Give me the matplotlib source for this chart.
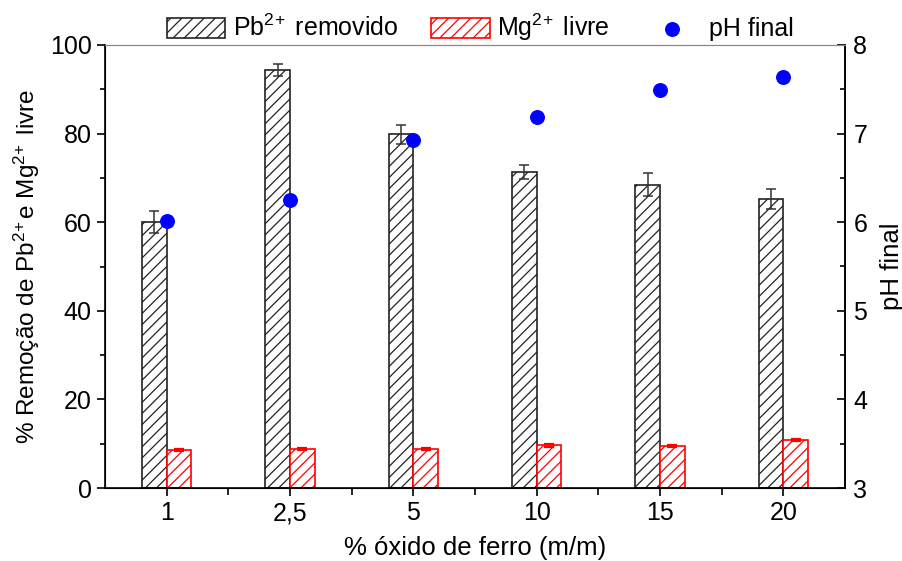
import numpy as np
import matplotlib.pyplot as plt
from matplotlib.ticker import MultipleLocator, FixedLocator

plt.rcParams['font.family'] = ['Liberation Sans', 'DejaVu Sans']
plt.rcParams['mathtext.fontset'] = 'custom'
plt.rcParams['mathtext.rm'] = 'Liberation Sans'
plt.rcParams['mathtext.it'] = 'Liberation Sans'
plt.rcParams['mathtext.default'] = 'regular'
plt.rcParams['hatch.linewidth'] = 0.9

categorias = ['1', '2,5', '5', '10', '15', '20']
pb_removido = [60.0, 94.3, 79.8, 71.3, 68.5, 65.2]
pb_erro = [2.5, 1.3, 2.2, 1.5, 2.5, 2.3]
mg_livre = [8.6, 8.8, 8.8, 9.6, 9.5, 10.8]
mg_erro = [0.3, 0.3, 0.3, 0.3, 0.3, 0.3]
ph_final = [6.01, 6.25, 6.93, 7.19, 7.49, 7.64]

x = np.arange(len(categorias))
w = 0.2
fs = 18

fig = plt.figure(figsize=(9.03, 5.61), dpi=100)
ax = fig.add_axes([105 / 903, 1 - 488 / 561, (845 - 105) / 903, (488 - 45) / 561])

b1 = ax.bar(x - w / 2, pb_removido, w, yerr=pb_erro, color='white', edgecolor='#222222',
            hatch='///', linewidth=1.2,
            error_kw=dict(ecolor='#333333', capsize=3.5, elinewidth=1.1, capthick=1.1),
            label='Pb$^{2\\!+}$ removido')
b2 = ax.bar(x + w / 2, mg_livre, w, yerr=mg_erro, color='white', edgecolor='red',
            hatch='///', linewidth=1.2,
            error_kw=dict(ecolor='red', capsize=3.5, elinewidth=1.1, capthick=1.6),
            label='Mg$^{2\\!+}$ livre')

ax.set_xlim(-0.5, 5.5)
ax.set_ylim(0, 100)
ax.set_xticks(x)
ax.set_xticklabels(categorias)
ax.xaxis.set_minor_locator(FixedLocator(x[:-1] + 0.5))
ax.yaxis.set_major_locator(MultipleLocator(20))
ax.yaxis.set_minor_locator(MultipleLocator(10))
ax.tick_params(axis='both', which='major', labelsize=fs, length=6, width=1.2, direction='out')
ax.tick_params(axis='x', which='minor', length=5, width=1.2, direction='out')
ax.tick_params(axis='y', which='minor', length=3.5, width=1.2, direction='out')
ax.set_xlabel('% óxido de ferro (m/m)', fontsize=18.5, labelpad=8)
ax.set_ylabel('% Remoção de Pb$^{2\\!+}$e Mg$^{2\\!+}$ livre', fontsize=17.5, labelpad=6)
ax.spines['top'].set_color('#888888')
for s in ['left', 'bottom', 'right']:
    ax.spines[s].set_linewidth(1.2)

ax2 = ax.twinx()
p = ax2.scatter(x, ph_final, s=95, color='#0000ff', zorder=5, label='pH final')
ax2.set_ylim(3, 8)
ax2.yaxis.set_major_locator(MultipleLocator(1))
ax2.yaxis.set_minor_locator(MultipleLocator(0.5))
ax2.tick_params(axis='y', which='major', labelsize=fs, length=6, width=1.2, direction='in', pad=6)
ax2.tick_params(axis='y', which='minor', length=3.5, width=1.2, direction='in')
ax2.set_ylabel('pH final', fontsize=18.5, labelpad=9)
ax2.spines['top'].set_color('#888888')
ax2.spines['right'].set_linewidth(1.2)

fig.legend(handles=[b1, b2, p], loc='center', bbox_to_anchor=(480 / 903, 1 - 27.5 / 561),
           ncol=3, frameon=False, fontsize=18, handlelength=2.35, handleheight=0.85,
           columnspacing=1.3, handletextpad=0.3, borderpad=0, borderaxespad=0)

fig.savefig('out.png', dpi=100)
